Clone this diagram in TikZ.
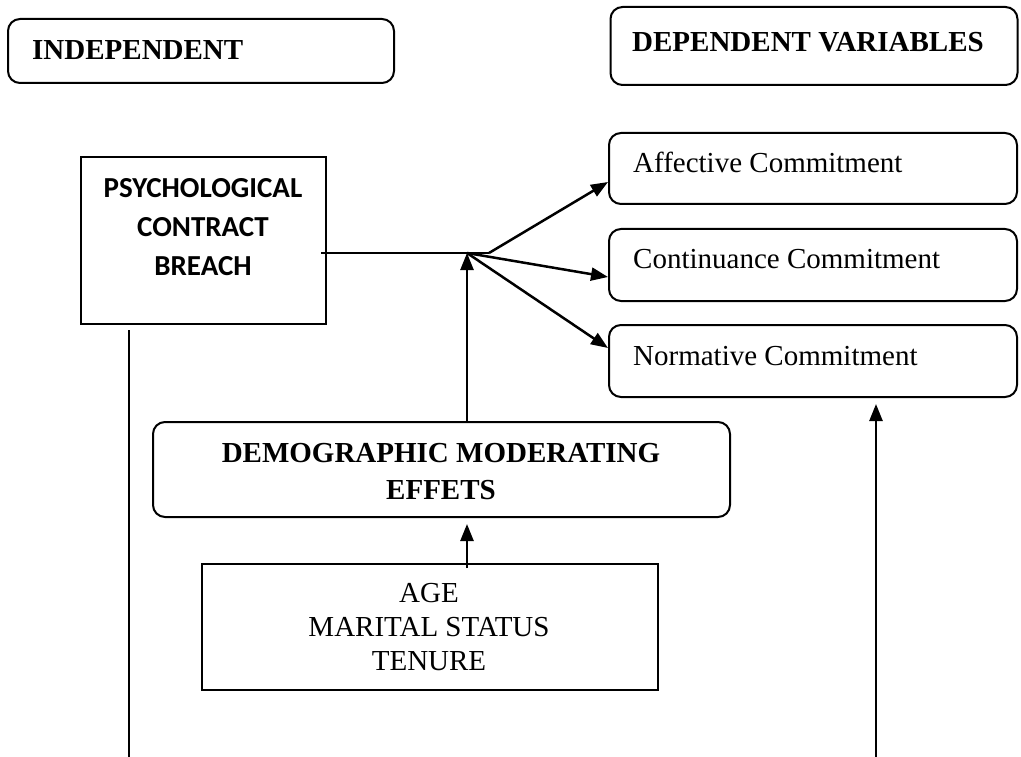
\documentclass[tikz,border=0pt]{standalone}
\usepackage{fontspec}
\setmainfont{Liberation Serif}
\newfontfamily\calibri{Carlito}
\usetikzlibrary{arrows.meta,calc}
\begin{document}
\begin{tikzpicture}[x=1pt,y=-1pt,
  rbox/.style={draw,rounded corners=12pt,line width=2pt,inner sep=0pt},
  sbox/.style={draw,line width=2pt,inner sep=0pt},
  arr/.style={line width=2.5pt,-{Triangle[length=17pt,width=13pt]}},
  conn/.style={line width=2.5pt},
  txt/.style={inner sep=0pt,font=\fontsize{29}{34}\selectfont}]
\useasboundingbox (0,0) rectangle (1021,757);

% boxes
\node[rbox,minimum width=386pt,minimum height=64pt] (indep) at (201,51) {};
\node[rbox,minimum width=407pt,minimum height=78pt] (dep) at (814,46) {};
\node[rbox,minimum width=408pt,minimum height=71pt] (aff) at (813,168.5) {};
\node[rbox,minimum width=408pt,minimum height=72pt] (cont) at (813,265) {};
\node[rbox,minimum width=408pt,minimum height=72pt] (norm) at (813,361) {};
\node[sbox,minimum width=245pt,minimum height=167pt] (psych) at (203.5,240.5) {};
\node[rbox,minimum width=577pt,minimum height=95pt] (demo) at (441.5,469.5) {};
\node[sbox,minimum width=456pt,minimum height=126pt] (age) at (430,627) {};

% texts
\node[txt,anchor=base west] (indept) at (32,60) {\bfseries INDEPENDENT};
\node[txt,anchor=base west] (dept) at (632,52) {\bfseries DEPENDENT VARIABLES};
\node[txt,anchor=base west] (afft) at (633,173) {Affective Commitment};
\node[txt,anchor=base west] (contt) at (633,268) {Continuance Commitment};
\node[txt,anchor=base west] (normt) at (633,365) {Normative Commitment};
\node[inner sep=0pt,anchor=north,align=center,font=\calibri\bfseries\fontsize{29}{39}\selectfont] (psycht) at (203,178) {PSYCHOLOGICAL\\CONTRACT\\BREACH};
\node[inner sep=0pt,anchor=north,align=center,font=\bfseries\fontsize{29}{37.5}\selectfont] (demot) at (441,443) {DEMOGRAPHIC MODERATING\\EFFETS};
\node[inner sep=0pt,anchor=north,align=center,font=\fontsize{29}{34}\selectfont] (aget) at (429,583) {AGE\\MARITAL STATUS\\TENURE};

% connectors
\coordinate (j1) at (467,253);
\coordinate (j2) at (489,253);
\coordinate (pstart) at (321,253);
\coordinate (lb) at (129,757);
\coordinate (rb) at (876,757);
\draw[conn] (pstart) -- (j2);
\draw[arr] (j2) -- ([yshift=-13.5pt]aff.west);
\draw[arr] (j1) -- ([yshift=-12pt]cont.west);
\draw[arr] (j1) -- ([yshift=13pt]norm.west);
\draw[arr] (demo.north -| j1) -- (j1);
\draw[arr] ([yshift=-5pt]age.north -| j1) -- ([yshift=-6pt]demo.south -| j1);
\draw[conn] ([yshift=-5pt]psych.south -| lb) -- (lb);
\draw[arr] (rb) -- ([yshift=-6pt]norm.south -| rb);
\end{tikzpicture}
\end{document}
